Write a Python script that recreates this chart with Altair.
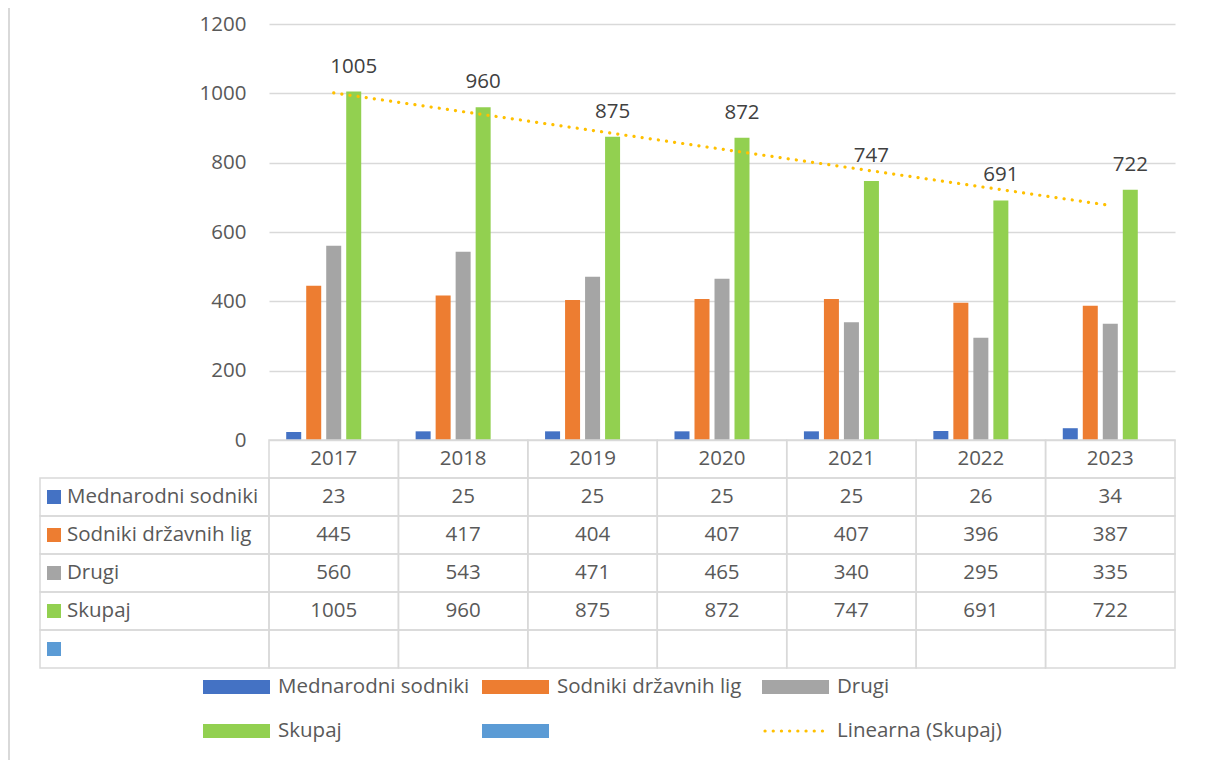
import altair as alt
import pandas as pd

# ---------------- data ----------------
years = [2017, 2018, 2019, 2020, 2021, 2022, 2023]
mednarodni = [23, 25, 25, 25, 25, 26, 34]
sodniki = [445, 417, 404, 407, 407, 396, 387]
drugi = [560, 543, 471, 465, 340, 295, 335]
skupaj = [1005, 960, 875, 872, 747, 691, 722]
series_names = ["Mednarodni sodniki", "Sodniki državnih lig", "Drugi", "Skupaj", ""]
series_keys = ["s1", "s2", "s3", "s4", "s5"]
series_colors = ["#4472C4", "#ED7D31", "#A5A5A5", "#92D050", "#5B9BD5"]
trend_name = "Linearna (Skupaj)"
y_ticks = [0, 200, 400, 600, 800, 1000, 1200]

values_by_key = {"s1": mednarodni, "s2": sodniki, "s3": drugi, "s4": skupaj}

bars_df = pd.DataFrame(
    [{"year": y, "key": k, "value": v[i]} for k, v in values_by_key.items() for i, y in enumerate(years)]
)

row_domain = ["hdr"] + series_keys
table_rows = []
for i, y in enumerate(years):
    table_rows.append({"year": y, "row": "hdr", "txt": str(y)})
    for k in series_keys:
        vals = values_by_key.get(k)
        table_rows.append({"year": y, "row": k, "txt": str(vals[i]) if vals else ""})
table_df = pd.DataFrame(table_rows)
left_df = pd.DataFrame({"row": series_keys, "key": series_keys, "name": series_names})

# ---------------- layout ----------------
W, H = 906, 416
TABLE_BOTTOM = 644
FONT = "Open Sans"
FS = 20.5
TXT = "#595959"
GRID = "#D9D9D9"
TREND = "#FFC000"

x_scale = alt.Scale(domain=years, paddingInner=0, paddingOuter=0)
y_scale = alt.Scale(domain=[0, 1200])
row_scale = alt.Scale(domain=row_domain, range=[H, TABLE_BOTTOM], paddingInner=0, paddingOuter=0)
color_scale = alt.Scale(domain=series_keys, range=series_colors)
xoff_scale = alt.Scale(domain=series_keys, paddingInner=0.25, paddingOuter=0.86)

y_axis = alt.Axis(values=y_ticks, format="d", grid=True, gridColor=GRID, gridWidth=1.3, domain=False,
                  ticks=False, labelPadding=23, labelFontSize=FS, labelColor=TXT,
                  labelFont=FONT, title=None)

X = alt.X("year:O", scale=x_scale, axis=None)

bars = alt.Chart(bars_df).mark_bar().encode(
    x=X,
    xOffset=alt.XOffset("key:N", scale=xoff_scale),
    y=alt.Y("value:Q", scale=y_scale, axis=y_axis),
    color=alt.Color("key:N", scale=color_scale, legend=None),
)

labels = alt.Chart(bars_df).transform_filter("datum.key == 's4'").mark_text(
    dy=-19, baseline="alphabetic", fontSize=FS, color="#404040", font=FONT
).encode(
    x=X,
    xOffset=alt.XOffset("key:N", scale=xoff_scale),
    y=alt.Y("value:Q", scale=y_scale, axis=None),
    text=alt.Text("value:Q", format="d"),
)

trend = alt.Chart(bars_df).transform_filter("datum.key == 's4'").transform_regression(
    on="year", regression="value", method="linear"
).mark_line(color=TREND, strokeWidth=3.2, strokeDash=[0.1, 8.1], strokeCap="round").encode(
    x=X,
    y=alt.Y("value:Q", scale=y_scale, axis=None),
)

ROW = alt.Y("row:O", scale=row_scale, axis=None)

cells = alt.Chart(table_df).mark_rect(fill="white", fillOpacity=0, stroke=GRID, strokeWidth=1.5).encode(
    x=X, y=ROW
)
cell_text = alt.Chart(table_df).mark_text(fontSize=FS, color=TXT, font=FONT).encode(
    x=X, y=ROW, text="txt:N"
)
left_cells = alt.Chart(left_df).mark_rect(fill="white", fillOpacity=0, stroke=GRID, strokeWidth=1.5).encode(
    x=alt.value(-229), x2=alt.value(0), y=ROW
)
left_sq = alt.Chart(left_df).mark_square(size=196, opacity=1).encode(
    x=alt.value(-215), y=ROW, color=alt.Color("key:N", scale=color_scale, legend=None)
)
left_txt = alt.Chart(left_df).mark_text(align="left", fontSize=FS, color=TXT, font=FONT).encode(
    x=alt.value(-202), y=ROW, text="name:N"
)

# ---------------- bottom legend ----------------
def one():
    return alt.Chart(pd.DataFrame({"k": [0]}))

legend_layers = []
col_x = [-66, 213, 493]
row_y = [663, 707]
items = [("s1", 0, 0), ("s2", 0, 1), ("s3", 0, 2), ("s4", 1, 0), ("s5", 1, 1), ("trend", 1, 2)]
for key, r, c in items:
    x0, yc = col_x[c], row_y[r]
    if key == "trend":
        legend_layers.append(one().mark_rule(color=TREND, strokeWidth=3.2, strokeDash=[0.1, 8.1],
                                             strokeCap="round").encode(
            x=alt.value(x0 + 3), x2=alt.value(x0 + 67), y=alt.value(yc)))
        name = trend_name
    else:
        idx = series_keys.index(key)
        legend_layers.append(one().mark_rect(color=series_colors[idx]).encode(
            x=alt.value(x0), x2=alt.value(x0 + 67), y=alt.value(yc - 7), y2=alt.value(yc + 7)))
        name = series_names[idx]
    if name:
        legend_layers.append(one().mark_text(align="left", baseline="middle", fontSize=FS, color=TXT,
                                             font=FONT, text=name).encode(
            x=alt.value(x0 + 75), y=alt.value(yc)))

border = one().mark_rule(color=GRID, strokeWidth=2).encode(
    x=alt.value(-260), y=alt.value(-16), y2=alt.value(736)
)

chart = alt.layer(
    border, bars, trend, labels, cells, left_cells, cell_text, left_sq, left_txt, *legend_layers
).resolve_scale(y="independent").properties(
    width=W, height=H,
    autosize=alt.AutoSizeParams(type="none"),
    padding={"left": 261, "top": 16, "right": 20, "bottom": 320},
).configure(font=FONT).configure_view(strokeWidth=0, strokeOpacity=0)

chart.save("out.html", embed_options={"renderer": "svg", "actions": False})
